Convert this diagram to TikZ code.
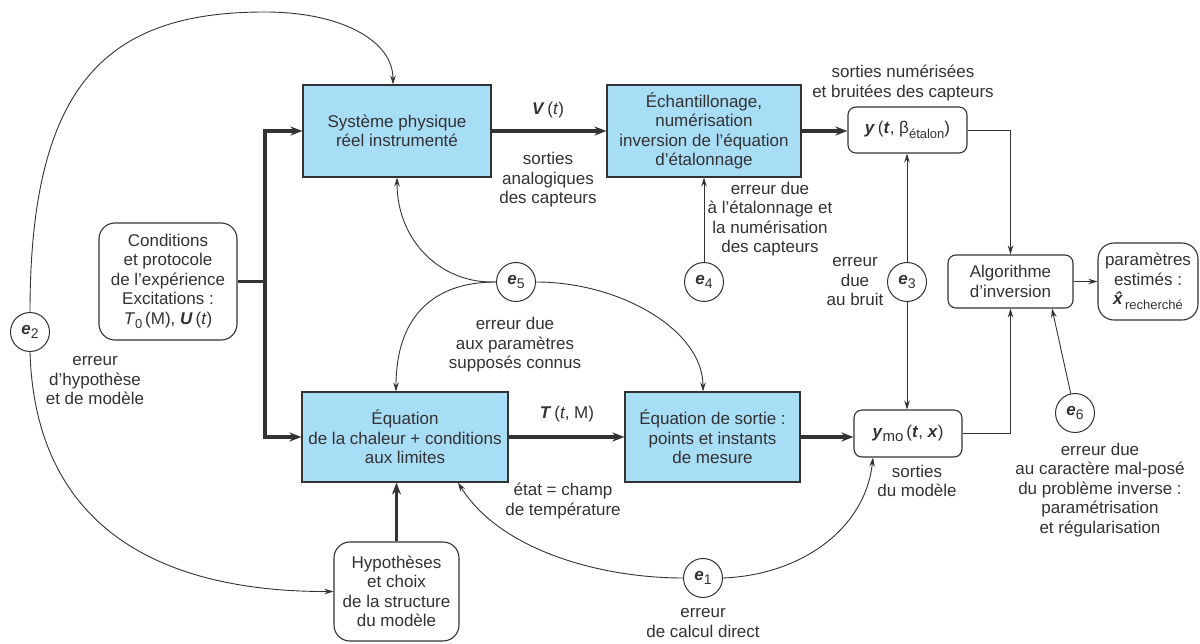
\documentclass[tikz,border=0pt]{standalone}
\usepackage{fontspec}
\setmainfont{Liberation Sans}
\usetikzlibrary{arrows.meta,calc}
\definecolor{boxblue}{RGB}{168,221,246}
\definecolor{ink}{RGB}{51,51,51}
\definecolor{txt}{RGB}{50,50,50}
\newcommand\ev[1]{\textbf{\textit{e}}\raisebox{-0.45ex}{\fontsize{14}{14}\selectfont #1}}
\newcommand\subt[1]{\raisebox{-0.5ex}{\fontsize{13}{13}\selectfont #1}}
\newcommand\bi[1]{\textbf{\textit{#1}}}
\begin{document}
\begin{tikzpicture}[x=1pt,y=-1pt,font=\fontsize{17}{19.5}\selectfont,text=txt,
  bluebox/.style={draw=ink,line width=1.1pt,fill=boxblue,align=center,inner sep=0pt},
  rbox/.style={draw=ink,line width=1.1pt,fill=white,rounded corners=8pt,align=center,inner sep=0pt},
  rrbox/.style={rbox,rounded corners=16pt},
  err/.style={circle,draw=ink,line width=1pt,minimum size=39pt,inner sep=0pt},
  lbl/.style={align=center,inner sep=0pt},
  wire/.style={draw=ink,line width=0.9pt},
  conn/.style={wire,-{Stealth[length=9pt,width=5.5pt]}},
  thickwire/.style={draw=ink,line width=3.5pt},
  thickconn/.style={thickwire,-{Stealth[length=12pt,width=9pt]}}]
\useasboundingbox (0,0) rectangle (1200,644);

% main boxes
\node[bluebox,minimum width=188pt,minimum height=92pt] (box1) at (397,131) {Système physique\\réel instrumenté};
\node[bluebox,minimum width=194pt,minimum height=92pt] (box2) at (704,131) {Échantillonage,\\numérisation\\inversion de l’équation\\d’étalonnage};
\node[rbox,minimum width=119pt,minimum height=46pt] (ybox) at (907.5,130) {\bi{y}\,(\bi{t}, β\subt{étalon})};
\node[bluebox,minimum width=206pt,minimum height=90pt] (box3) at (405,437) {Équation\\de la chaleur + conditions\\aux limites};
\node[bluebox,minimum width=175pt,minimum height=90pt] (box4) at (712.5,437) {Équation de sortie :\\points et instants\\de mesure};
\node[rbox,minimum width=108pt,minimum height=47pt] (ymo) at (908,433.5) {\bi{y}\raisebox{-0.45ex}{\fontsize{15}{15}\selectfont mo}\,(\bi{t}, \bi{x})};
\node[rbox,minimum width=125pt,minimum height=53pt] (algo) at (1010.5,281.5) {Algorithme\\d’inversion};
\node[rrbox,minimum width=100pt,minimum height=77pt] (param) at (1148,281.5) {paramètres\\estimés :\\\bi{\^x}\kern-1pt\subt{recherché}};
\node[rrbox,minimum width=138pt,minimum height=117pt] (cond) at (168,281.5) {Conditions\\et protocole\\de l’expérience\\Excitations :\\\textit{T}\subt{0}\,(M), \bi{U}\,(\textit{t})};
\node[rrbox,minimum width=125pt,minimum height=99pt] (hyp) at (396.5,591.5) {Hypothèses\\et choix\\de la structure\\du modèle};

% error circles
\node[err] (e1) at (703,578) {\ev{1}};
\node[err] (e2) at (30,332) {\ev{2}};
\node[err] (e3) at (907,282) {\ev{3}};
\node[err] (e4) at (704,282) {\ev{4}};
\node[err] (e5) at (516,282) {\ev{5}};
\node[err] (e6) at (1075,413) {\ev{6}};

% labels
\node[lbl] (vlab) at (548,110) {\bi{V}\,(\textit{t})};
\node[lbl] (anal) at (548,180) {sorties\\analogiques\\des capteurs};
\node[lbl] (numb) at (903,83) {sorties numérisées\\et bruitées des capteurs};
\node[lbl] (etal) at (770,219) {erreur due\\à l’étalonnage et\\la numérisation\\des capteurs};
\node[lbl] (brt) at (855,282) {erreur\\due\\au bruit};
\node[lbl] (l5) at (515,345) {erreur due\\aux paramètres\\supposés connus};
\node[lbl] (tlab) at (567,414) {\bi{T}\,(\textit{t}, M)};
\node[lbl] (etat) at (563,501) {état = champ\\de température};
\node[lbl] (smod) at (917,481) {sorties\\du modèle};
\node[lbl] (l6) at (1100,490) {erreur due\\au caractère mal-posé\\du problème inverse :\\paramétrisation\\et régularisation};
\node[lbl] (l2) at (95,381) {erreur\\d’hypothèse\\et de modèle};
\node[lbl] (l1) at (703,623) {erreur\\de calcul direct};

% thick flow
\coordinate (tr) at (265,281.5);
\draw[thickwire] (cond.east) -- (tr);
\draw[thickconn] (tr) |- (box1.west);
\draw[thickconn] (tr) |- (box3.west);
\draw[thickconn] (box1.east) -- (box2.west);
\draw[thickconn] (box2.east) -- (ybox.west |- box2.east);
\draw[thickconn] (box3.east) -- (box4.west);
\draw[thickconn] (box4.east) -- (ymo.west |- box4.east);
\draw[thickconn] (hyp.north) -- (hyp.north |- box3.south);

% thin connectors
\draw[conn] (ybox.east) -| (algo.north);
\draw[conn] (ymo.east) -| (algo.south);
\draw[conn] (algo.east) -- (param.west);
\draw[conn] (e3.north) -- (e3.north |- ybox.south);
\draw[conn] (e3.south) -- (e3.south |- ymo.north);
\draw[conn] (e4.north) -- (e4.north |- box2.south);
\coordinate (a6) at (1052,308.5);
\draw[conn] (e6) -- (a6);

% curved error connectors
\draw[conn] (e5.west) .. controls (440,284) and (397,240) .. (box1.south);
\draw[conn] (e5.west) .. controls (430,282) and (396,320) .. ([xshift=-9pt]box3.north);
\draw[conn] (e5.east) .. controls (620,282) and (703,330) .. ([xshift=-9.5pt]box4.north);
\draw[conn] (e1.west) .. controls (600,578) and (500,550) .. ([xshift=53pt]box3.south);
\draw[conn] (e1.east) .. controls (800,575) and (865,530) .. ([xshift=-35pt]ymo.south);
\draw[conn] (e2.north) .. controls (30,80) and (110,12) .. (265,12) .. controls (340,12) and (393,40) .. ([xshift=-4pt]box1.north);
\draw[conn] (e2.south) .. controls (35,520) and (150,592) .. (hyp.west);
\end{tikzpicture}
\end{document}
